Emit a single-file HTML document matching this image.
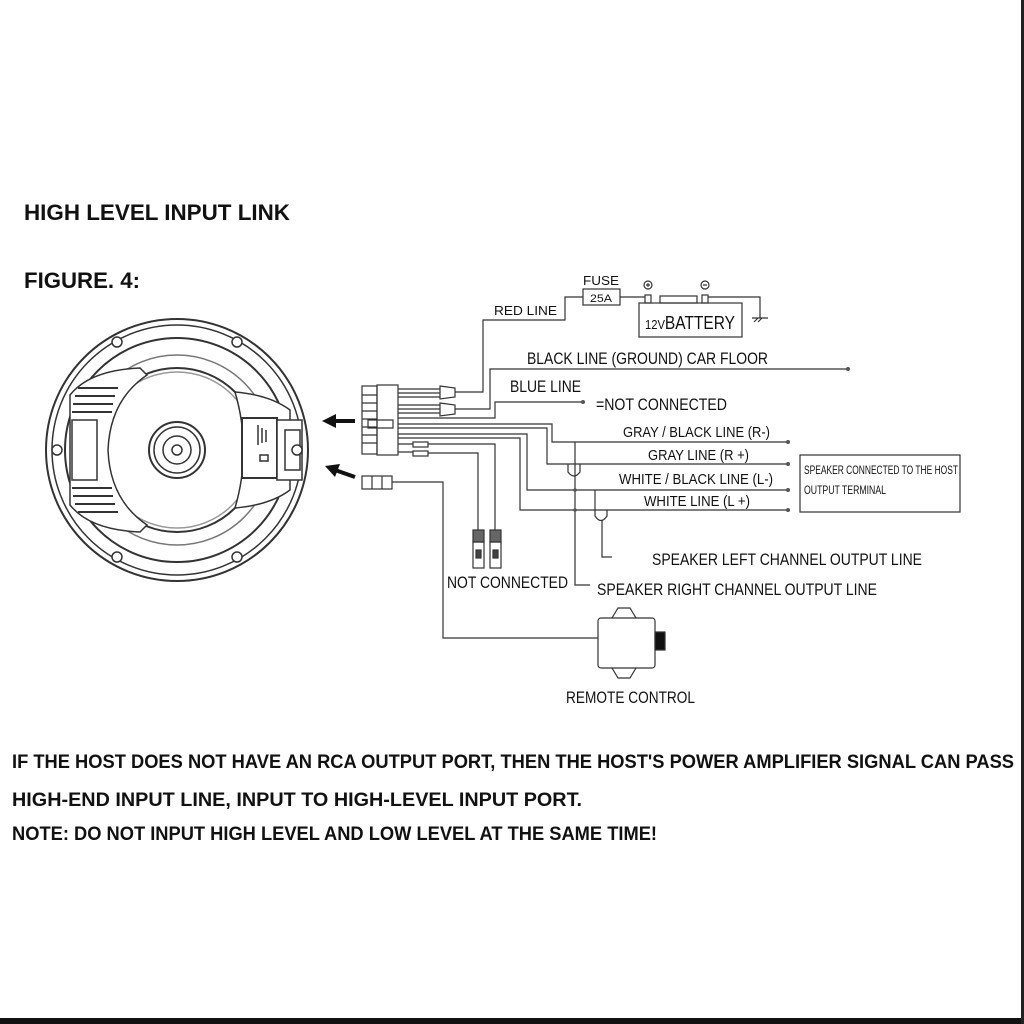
<!DOCTYPE html>
<html><head><meta charset="utf-8"><style>
html,body{margin:0;padding:0;background:#fff;}
svg{display:block}
text{font-family:"Liberation Sans",sans-serif;fill:#111;}
</style></head><body>
<svg width="1024" height="1024" viewBox="0 0 1024 1024" xmlns="http://www.w3.org/2000/svg">
<rect width="1024" height="1024" fill="#fff"/>
<rect x="0" y="1018" width="1024" height="6" fill="#111"/>
<rect x="1021" y="0" width="3" height="1024" fill="#222"/>

<g font-weight="bold">
<text x="24" y="220" font-size="22" textLength="266" lengthAdjust="spacingAndGlyphs">HIGH LEVEL INPUT LINK</text>
<text x="24" y="288" font-size="22" textLength="116" lengthAdjust="spacingAndGlyphs">FIGURE. 4:</text>
<text x="12" y="768" font-size="19" textLength="1002" lengthAdjust="spacingAndGlyphs">IF THE HOST DOES NOT HAVE AN RCA OUTPUT PORT, THEN THE HOST'S POWER AMPLIFIER SIGNAL CAN PASS</text>
<text x="12" y="806" font-size="19" textLength="570" lengthAdjust="spacingAndGlyphs">HIGH-END INPUT LINE, INPUT TO HIGH-LEVEL INPUT PORT.</text>
<text x="12" y="840" font-size="19" textLength="645" lengthAdjust="spacingAndGlyphs">NOTE: DO NOT INPUT HIGH LEVEL AND LOW LEVEL AT THE SAME TIME!</text>
</g>

<!-- speaker -->
<g fill="none" stroke="#333" stroke-width="1.5">
<circle cx="177" cy="450" r="131" stroke-width="2"/>
<circle cx="177" cy="450" r="125"/>
<circle cx="177" cy="450" r="112" stroke-width="2"/>
<circle cx="177" cy="450" r="95" stroke="#777"/>
<circle cx="177" cy="450" r="82" stroke-width="2"/>
<circle cx="177" cy="450" r="78" stroke="#999"/>
<circle cx="177" cy="450" r="28" stroke-width="2"/>
<circle cx="177" cy="450" r="23"/>
<circle cx="177" cy="450" r="14"/>
<circle cx="177" cy="450" r="5"/>
<path d="M70 395 Q90 370 140 368 L147 375 Q110 400 108 450 Q110 500 147 525 L140 532 Q90 530 70 505 Z" fill="#fff"/>
<rect x="72" y="420" width="25" height="60"/>
<path d="M78 388 h40 M75 396 h40 M73 404 h40 M72 412 h40 M72 488 h40 M73 496 h40 M75 504 h40 M78 512 h40" stroke-width="2"/>
<path d="M235 392 Q270 395 290 410 L290 490 Q270 505 235 508 Q252 450 235 392 Z" fill="#fff"/>
<rect x="242" y="418" width="35" height="60" fill="#fff" stroke-width="2"/>
<rect x="277" y="420" width="25" height="60" fill="#fff"/>
<rect x="285" y="430" width="15" height="40"/>
<path d="M258 425 v20 M262 428 v15 M266 430 v12 M260 455 h8 v6 h-8z"/>
</g>
<g fill="#fff" stroke="#333" stroke-width="1.5">
<circle cx="117" cy="342" r="5"/><circle cx="237" cy="342" r="5"/>
<circle cx="57" cy="450" r="5"/><circle cx="297" cy="450" r="5"/>
<circle cx="117" cy="557" r="5"/><circle cx="237" cy="557" r="5"/>
</g>
<!-- arrows -->
<path d="M355 421 H333" stroke="#111" stroke-width="4"/>
<path d="M322 421 L336 414 L336 428 Z" fill="#111"/>
<path d="M355 477 L335 470" stroke="#111" stroke-width="4"/>
<path d="M325 466 L340 464 L335 477 Z" fill="#111"/>

<!-- wiring -->
<g fill="none" stroke="#333" stroke-width="1.2">
<rect x="362" y="386" width="15" height="68"/>
<rect x="377" y="385" width="21" height="70"/>
<path d="M362 395h15M362 403h15M362 411h15M362 419h15M362 427h15M362 435h15M362 443h15"/>
<path d="M368 420h25v8h-25z"/>
<path d="M398 389h42M398 393h42M398 397h42M398 405h42M398 409h42M398 413h42"/>
<path d="M440 386 l15 2 v9 l-15 2z M440 403 l15 2 v9 l-15 2z"/>
<path d="M455 392 H483 V320 H565 V297 H583"/>
<path d="M455 409 H490 V369 H848"/>
<path d="M398 418 H495 V402 H583"/>
<path d="M398 424 H552 V442 H788"/>
<path d="M398 428 H547 V464 H788"/>
<path d="M398 434 H527 V490 H788"/>
<path d="M398 438 H520 V510 H788"/>
<path d="M398 444h15M398 452h15"/>
<rect x="413" y="442" width="15" height="5"/><rect x="413" y="451" width="15" height="5"/>
<path d="M428 444 H495 V530 M428 453 H478 V530"/>
<rect x="362" y="476" width="30" height="13"/>
<path d="M372 476v13M382 476v13"/>
<path d="M392 482 H443 V638 H598"/>
<!-- junctions -->
<path d="M575 442 V585 H590"/>
<path d="M568 464 v8 q6 8 12 0 v-8"/>
<path d="M595 490 V510"/>
<path d="M595 510 v6 q6 9 12 0 v-6"/>
<path d="M602 520 V557 H612"/>
<!-- box -->
<rect x="800" y="455" width="160" height="57"/>
<!-- fuse & battery -->
<rect x="583" y="289" width="37" height="16"/>
<path d="M620 297 H645 M708 297 H760 V318"/>
<rect x="639" y="303" width="103" height="34"/>
<rect x="645" y="295" width="6" height="8"/><rect x="702" y="295" width="6" height="8"/>
<rect x="660" y="296" width="37" height="7"/>
<circle cx="648" cy="285" r="4"/><circle cx="705" cy="285" r="4"/>
<path d="M646 285h4M648 283v4M703 285h4"/>
<path d="M752 318h16M754 322l4-4M758 322l4-4"/>
<!-- not connected plugs -->
<rect x="473" y="530" width="11" height="12" fill="#666"/><rect x="490" y="530" width="11" height="12" fill="#666"/>
<rect x="473" y="542" width="11" height="26"/><rect x="490" y="542" width="11" height="26"/>
<rect x="476" y="550" width="5" height="8" fill="#444"/><rect x="493" y="550" width="5" height="8" fill="#444"/>
<!-- remote -->
<path d="M612 618 l6 -10 h12 l6 10 M612 668 l6 10 h12 l6 -10"/>
<rect x="598" y="618" width="57" height="50" rx="3"/>
<rect x="655" y="632" width="10" height="18" fill="#111"/>
</g>
<g fill="#555"><circle cx="848" cy="369" r="2"/><circle cx="583" cy="402" r="2"/>
<circle cx="788" cy="442" r="2"/><circle cx="788" cy="464" r="2"/><circle cx="788" cy="490" r="2"/><circle cx="788" cy="510" r="2"/>
<circle cx="575" cy="490" r="1.8"/><circle cx="575" cy="510" r="1.8"/></g>

<g font-size="15">
<text x="494" y="315" textLength="63" lengthAdjust="spacingAndGlyphs" font-size="13">RED LINE</text>
<text x="583" y="285" textLength="36" lengthAdjust="spacingAndGlyphs" font-size="13">FUSE</text>
<text x="590" y="302" textLength="22" lengthAdjust="spacingAndGlyphs" font-size="11">25A</text>
<text x="645" y="329" textLength="90" lengthAdjust="spacingAndGlyphs" font-size="18"><tspan font-size="13">12V</tspan>BATTERY</text>
<text x="527" y="364" textLength="241" lengthAdjust="spacingAndGlyphs" font-size="17">BLACK LINE (GROUND) CAR FLOOR</text>
<text x="510" y="392" textLength="71" lengthAdjust="spacingAndGlyphs" font-size="17">BLUE LINE</text>
<text x="596" y="410" textLength="131" lengthAdjust="spacingAndGlyphs" font-size="17">=NOT CONNECTED</text>
<text x="623" y="437" textLength="147" lengthAdjust="spacingAndGlyphs">GRAY / BLACK LINE (R-)</text>
<text x="648" y="460" textLength="101" lengthAdjust="spacingAndGlyphs">GRAY LINE (R +)</text>
<text x="619" y="484" textLength="154" lengthAdjust="spacingAndGlyphs">WHITE / BLACK LINE (L-)</text>
<text x="644" y="506" textLength="106" lengthAdjust="spacingAndGlyphs">WHITE LINE (L +)</text>
<text x="804" y="474" textLength="154" lengthAdjust="spacingAndGlyphs" font-size="12">SPEAKER CONNECTED TO THE HOST</text>
<text x="804" y="494" textLength="82" lengthAdjust="spacingAndGlyphs" font-size="12">OUTPUT TERMINAL</text>
<text x="652" y="565" textLength="270" lengthAdjust="spacingAndGlyphs" font-size="17">SPEAKER LEFT CHANNEL OUTPUT LINE</text>
<text x="597" y="595" textLength="280" lengthAdjust="spacingAndGlyphs" font-size="17">SPEAKER RIGHT CHANNEL OUTPUT LINE</text>
<text x="447" y="588" textLength="121" lengthAdjust="spacingAndGlyphs" font-size="17">NOT CONNECTED</text>
<text x="566" y="703" textLength="129" lengthAdjust="spacingAndGlyphs" font-size="17">REMOTE CONTROL</text>
</g>
</svg>
</body></html>
